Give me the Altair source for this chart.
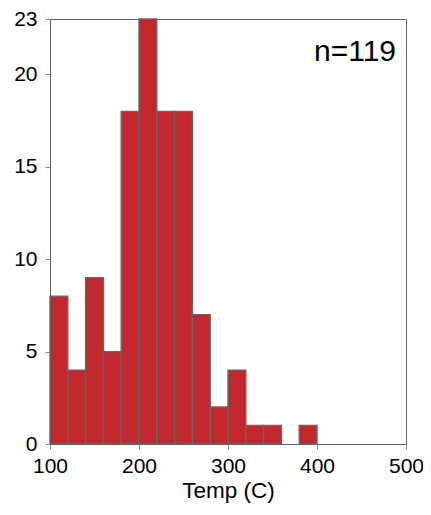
import altair as alt
import pandas as pd

bin_start = [100, 120, 140, 160, 180, 200, 220, 240, 260, 280, 300, 320, 340, 360, 380]
bin_width = 20
counts = [8, 4, 9, 5, 18, 23, 18, 18, 7, 2, 4, 1, 1, 0, 1]
x_ticks = [100, 200, 300, 400, 500]
y_ticks = [0, 5, 10, 15, 20, 23]
n_label = "n=119"

df = pd.DataFrame({
    "start": bin_start,
    "end": [s + bin_width for s in bin_start],
    "count": counts,
    "zero": [0] * len(bin_start),
})

W, H = 356, 425
FONT = "Liberation Sans"

bars = alt.Chart(df).transform_filter("datum.count > 0").mark_bar(
    color="#c1272d", stroke="#666666", strokeWidth=1.4
).encode(
    x=alt.X("start:Q", scale=alt.Scale(domain=[100, 500], nice=False),
            axis=alt.Axis(values=x_ticks, title="Temp (C)", grid=False,
                          tickSize=5, labelPadding=6, titlePadding=3,
                          labelFlush=False, labelOverlap=False)),
    x2="end:Q",
    y=alt.Y("count:Q", scale=alt.Scale(domain=[0, 23], nice=False),
            axis=alt.Axis(values=y_ticks, title=None, grid=False,
                          tickSize=5, labelPadding=8,
                          labelFlush=False, labelOverlap=False)),
    y2="zero:Q",
)

label = alt.Chart(pd.DataFrame({"t": [n_label]})).mark_text(
    align="right", baseline="alphabetic", fontSize=30, font=FONT, color="black"
).encode(
    text="t:N",
    x=alt.value(W - 10),
    y=alt.value(42),
)

chart = (bars + label).properties(
    width=W, height=H,
    autosize=alt.AutoSizeParams(type="none"),
    padding={"left": 42, "top": 11, "right": 17, "bottom": 60},
).configure_view(
    stroke="#666666", strokeWidth=1
).configure_axis(
    domainColor="#666666", tickColor="#888888",
    labelFont=FONT, titleFont=FONT, labelFontSize=21, titleFontSize=22.5,
    labelColor="black", titleColor="black", titleFontWeight="normal",
)

chart.save("out.html", embed_options={"renderer": "svg", "actions": False})
